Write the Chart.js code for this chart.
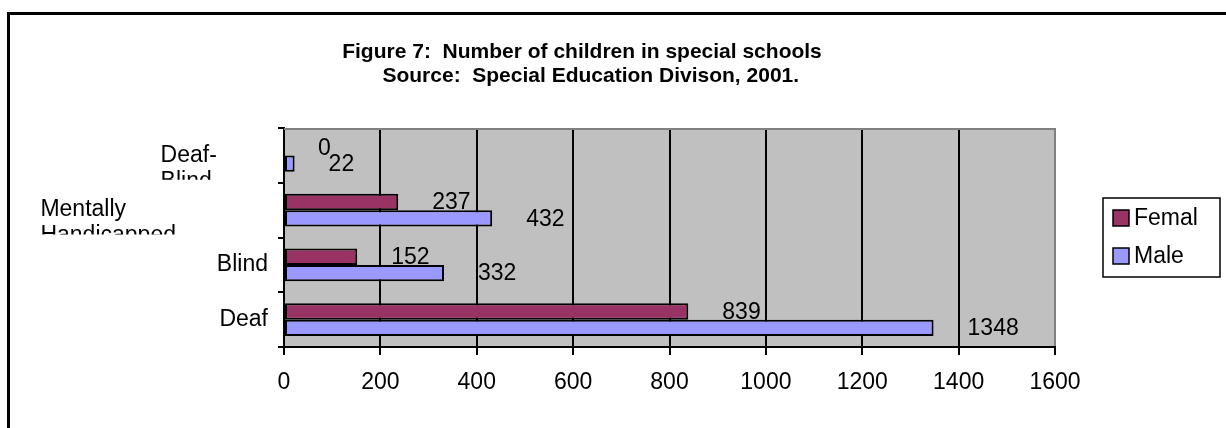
<!DOCTYPE html>
<html>
<head>
<meta charset="utf-8">
<script src="https://cdn.jsdelivr.net/npm/chart.js@4.4.1/dist/chart.umd.min.js"></script>
<style>
    html, body { margin: 0; padding: 0; background: #fff; }
    #wrap { width: 1226px; height: 428px; }
</style>
</head>
<body>
<div id="wrap"><canvas id="chart"></canvas></div>
<script>
// categories top to bottom, as in the figure
const categories = ['Deaf-Blind', 'Mentally Handicapped', 'Blind', 'Deaf'];
const femal = [0, 237, 152, 839];
const male = [22, 432, 332, 1348];
const seriesNames = ['Femal', 'Male'];
const xMin = 0;
const xMax = 1600;
const xStep = 200;
const titleLines = [
    'Figure 7:  Number of children in special schools',
    '   Source:  Special Education Divison, 2001.'
];

const FONT = '"Liberation Sans", Arial, Helvetica, sans-serif';
const colors = {
    femal: '#993366',
    male: '#9999ff',
    plot: '#c0c0c0'
};

// outer frame + grey plot background
let framePlugin = {
    id: 'frame',
    beforeDraw(chart) {
        let ctx = chart.ctx;
        let a = chart.chartArea;
        ctx.save();
        ctx.fillStyle = colors.plot;
        ctx.fillRect(a.left, a.top, a.right - a.left, a.bottom - a.top);
        ctx.strokeStyle = '#000';
        ctx.lineWidth = 3;
        ctx.beginPath();
        ctx.moveTo(8.5, chart.height);
        ctx.lineTo(8.5, 13.5);
        ctx.lineTo(chart.width, 13.5);
        ctx.stroke();
        ctx.restore();
    },
    beforeDatasetsDraw(chart) {
        let ctx = chart.ctx;
        let a = chart.chartArea;
        ctx.save();
        ctx.strokeStyle = '#808080';
        ctx.lineWidth = 2;
        ctx.beginPath();
        ctx.moveTo(a.left, a.top + 1);
        ctx.lineTo(a.right, a.top + 1);
        ctx.stroke();
        ctx.restore();
    }
};

// value labels, pushed to the right of each bar end like the old Excel layout
let valueLabelPlugin = {
    id: 'valueLabels',
    afterDatasetsDraw(chart) {
        let ctx = chart.ctx;
        ctx.save();
        ctx.font = '23px ' + FONT;
        ctx.fillStyle = '#000';
        ctx.textAlign = 'left';
        ctx.textBaseline = 'middle';
        chart.data.datasets.forEach((ds, di) => {
            let meta = chart.getDatasetMeta(di);
            meta.data.forEach((bar, i) => {
                ctx.fillText(String(ds.data[i]), bar.x + 34, bar.y + 1);
            });
        });
        ctx.restore();
    }
};

// category labels: wrapped ones start where the unwrapped text would, second line clipped
let categoryLabelPlugin = {
    id: 'categoryLabels',
    afterDraw(chart) {
        let ctx = chart.ctx;
        let y = chart.scales.y;
        let right = chart.chartArea.left - 16;
        ctx.save();
        ctx.font = '23px ' + FONT;
        ctx.fillStyle = '#000';
        ctx.textBaseline = 'middle';
        categories.forEach((label, i) => {
            let center = y.getPixelForValue(i);
            let bandTop = y.getPixelForValue(i - 0.5);
            let bandBottom = y.getPixelForValue(i + 0.5);
            let lines = label.split(/(?<=-)|\s+/);
            if (lines.length === 1) {
                ctx.textAlign = 'right';
                ctx.fillText(label, right, center);
                return;
            }
            let left = right - ctx.measureText(label).width;
            ctx.save();
            ctx.beginPath();
            ctx.rect(0, bandTop, chart.chartArea.left - 8, bandBottom - bandTop - 3);
            ctx.clip();
            ctx.textAlign = 'left';
            lines.forEach((line, li) => {
                ctx.fillText(line, left, center + li * 26);
            });
            ctx.restore();
        });
        ctx.restore();
    }
};

// boxed legend on the right
let legendPlugin = {
    id: 'boxLegend',
    afterDraw(chart) {
        let ctx = chart.ctx;
        let a = chart.chartArea;
        let boxLeft = a.right + 48;
        let boxW = 117;
        let boxH = 79;
        let boxTop = (a.top + a.bottom) / 2 - boxH / 2;
        ctx.save();
        ctx.strokeStyle = '#000';
        ctx.lineWidth = 1.5;
        ctx.strokeRect(boxLeft, boxTop, boxW, boxH);
        ctx.font = '23px ' + FONT;
        ctx.textAlign = 'left';
        ctx.textBaseline = 'middle';
        chart.data.datasets.forEach((ds, i) => {
            let cy = boxTop + 20 + i * 38;
            ctx.fillStyle = ds.backgroundColor;
            ctx.fillRect(boxLeft + 10, cy - 8, 16, 16);
            ctx.strokeStyle = '#000';
            ctx.lineWidth = 1.5;
            ctx.strokeRect(boxLeft + 10, cy - 8, 16, 16);
            ctx.fillStyle = '#000';
            ctx.fillText(ds.label, boxLeft + 31, cy + 1);
        });
        ctx.restore();
    }
};

// two line bold title
let titlePlugin = {
    id: 'twoLineTitle',
    afterDraw(chart) {
        let ctx = chart.ctx;
        ctx.save();
        ctx.font = 'bold 21px ' + FONT;
        ctx.fillStyle = '#000';
        ctx.textAlign = 'center';
        ctx.textBaseline = 'alphabetic';
        titleLines.forEach((line, i) => {
            ctx.fillText(line, 582, 58 + i * 24);
        });
        ctx.restore();
    }
};

new Chart(document.getElementById('chart'), {
    type: 'bar',
    data: {
        labels: categories,
        datasets: [
            {
                label: seriesNames[0],
                data: femal,
                backgroundColor: colors.femal,
                borderColor: '#000',
                borderWidth: 2,
                borderSkipped: false
            },
            {
                label: seriesNames[1],
                data: male,
                backgroundColor: colors.male,
                borderColor: '#000',
                borderWidth: 2,
                borderSkipped: false
            }
        ]
    },
    options: {
        indexAxis: 'y',
        responsive: true,
        maintainAspectRatio: false,
        animation: false,
        categoryPercentage: 0.6,
        barPercentage: 1,
        layout: {
            padding: { top: 128, right: 171, left: 0, bottom: 0 }
        },
        plugins: {
            legend: { display: false },
            title: { display: false },
            tooltip: { enabled: false }
        },
        scales: {
            x: {
                min: xMin,
                max: xMax,
                ticks: {
                    stepSize: xStep,
                    color: '#000',
                    padding: 14,
                    font: { family: FONT, size: 23 },
                    callback: (v) => String(v)
                },
                grid: {
                    color: (c) => c.tick && c.tick.value === xMax ? '#808080' : '#000',
                    tickColor: '#000',
                    lineWidth: 2,
                    tickLength: 8
                },
                border: { color: '#000', width: 2 },
                afterFit(scale) {
                    scale.height = 81;
                }
            },
            y: {
                ticks: { display: false },
                grid: {
                    offset: true,
                    drawOnChartArea: false,
                    color: '#000',
                    lineWidth: 2,
                    tickLength: 6
                },
                border: { color: '#000', width: 2 },
                afterFit(scale) {
                    scale.width = 284;
                }
            }
        }
    },
    plugins: [framePlugin, valueLabelPlugin, categoryLabelPlugin, legendPlugin, titlePlugin]
});
</script>
</body>
</html>
